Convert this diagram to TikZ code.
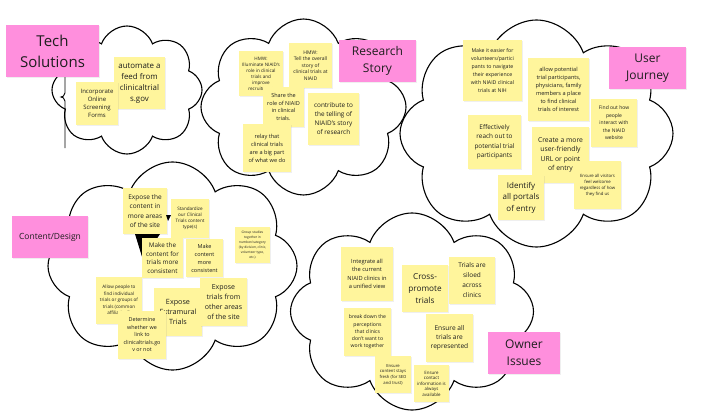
\documentclass[tikz,border=0pt]{standalone}
\usepackage{fontspec}
\setmainfont{Open Sans}
\usetikzlibrary{shapes.symbols,shadows}
\definecolor{noteyellow}{HTML}{FFF59C}
\definecolor{notepink}{HTML}{FF8FDD}
\definecolor{inktext}{HTML}{1E1E1E}
\newcommand{\fsz}[2]{\fontsize{#1}{#2}\selectfont}
\tikzset{
  cloudy/.style={draw=black, line width=1.1pt, cloud, cloud puffs=8, cloud puff arc=140,
    cloud ignores aspect, inner sep=0pt},
  note/.style={fill=noteyellow, inner sep=0.5pt, align=center, text=inktext,
    drop shadow={opacity=0.12, shadow xshift=0.7pt, shadow yshift=-0.9pt}},
  pinknote/.style={note, fill=notepink},
}
\begin{document}
\begin{tikzpicture}[x=1pt,y=-1pt]
\useasboundingbox (0,0) rectangle (708,412);
\fill[white] (0,0) rectangle (708,412);

% clouds
\node[cloudy, minimum width=150pt, minimum height=128pt, shape border rotate=10] (c1) at (127,90) {};
\node[cloudy, minimum width=205pt, minimum height=176pt, shape border rotate=5] (c2) at (303.5,107) {};
\node[cloudy, minimum width=273pt, minimum height=227pt, shape border rotate=15] (c3) at (536.5,133.5) {};
\node[cloudy, minimum width=249pt, minimum height=208pt, shape border rotate=8] (c4) at (172.5,266) {};
\node[cloudy, minimum width=243pt, minimum height=197pt, shape border rotate=12] (c5) at (412,311.5) {};

% bracket near tech cloud
\coordinate (bt) at (65,77);
\coordinate (bb) at (65,148);
\draw[line width=0.9pt] (bt) -- (65,93) .. controls (65,96) and (62,97) .. (61,97)
  .. controls (62,97) and (65,98) .. (65,101) -- (bb);

% Tech Solutions cloud
\node[note, minimum width=51pt, minimum height=52pt, font=\fsz{7.9}{11}] (automate) at (139.5,83) {automate a\\feed from\\clinicaltrial\\s.gov};
\node[note, minimum width=42pt, minimum height=43pt, font=\fsz{6}{8}] (incorporate) at (97,103.5) {Incorporate\\Online\\Screening\\Forms};
\node[pinknote, minimum width=93pt, minimum height=52pt, font=\fsz{15}{21}] (tech) at (52.5,51) {Tech\\Solutions};

% Research Story cloud
\node[note, minimum width=44pt, minimum height=45pt, font=\fsz{4.6}{6}] (hmwa) at (261,73.5) {HMW:\\Illuminate NIAID's\\role in clinical\\trials and\\improve\\recruitment};
\node[note, minimum width=43pt, minimum height=45pt, font=\fsz{5}{6.5}] (hmwb) at (310.5,65.5) {HMW:\\Tell the overall\\story of\\clinical trials at\\NIAID};
\node[note, minimum width=41pt, minimum height=40pt, font=\fsz{5.5}{7.5}] (share) at (283.5,107) {Share the\\role of NIAID\\in clinical\\trials.};
\node[note, minimum width=51pt, minimum height=52pt, font=\fsz{6.4}{9}] (contribute) at (333.5,119) {contribute to\\the telling of\\NIAID's story\\of research};
\node[note, minimum width=48pt, minimum height=48pt, font=\fsz{5.6}{8}] (relay) at (267,148) {relay that\\clinical trials\\are a big part\\of what we do};
\node[pinknote, minimum width=77pt, minimum height=42pt, font=\fsz{12}{17}] (research) at (377.5,61) {Research\\Story};

% User Journey cloud
\node[note, minimum width=59pt, minimum height=61pt, font=\fsz{5.2}{8}] (easier) at (492.5,70.5) {Make it easier for\\volunteers/partici\\pants to navigate\\their experience\\with NIAID clinical\\trials at NIH};
\node[note, minimum width=61pt, minimum height=63pt, font=\fsz{5.6}{8}] (allow) at (558.5,89.5) {allow potential\\trial participants,\\physicians, family\\members a place\\to find clinical\\trials of interest};
\node[note, minimum width=46pt, minimum height=48pt, font=\fsz{5}{7.5}] (findout) at (614,123) {Find out how\\people\\interact with\\the NIAID\\website};
\node[note, minimum width=53pt, minimum height=54pt, font=\fsz{6.4}{9.5}] (effectively) at (494.5,142) {Effectively\\reach out to\\potential trial\\participants};
\node[note, minimum width=57pt, minimum height=56pt, font=\fsz{6.8}{9.5}] (create) at (560.5,155) {Create a more\\user-friendly\\URL or point\\of entry};
\node[note, minimum width=46pt, minimum height=45pt, font=\fsz{8}{11.5}] (identify) at (521,197.5) {Identify\\all portals\\of entry};
\node[note, minimum width=47pt, minimum height=48pt, font=\fsz{4.3}{6}] (visitors) at (597.5,185) {Ensure all visitors\\feel welcome\\regardless of how\\they find us};
\node[pinknote, minimum width=77pt, minimum height=42pt, font=\fsz{12}{17}] (userj) at (647.5,68) {User\\Journey};

% Content/Design cloud
\node[note, minimum width=44pt, minimum height=46pt, font=\fsz{6.5}{9.5}] (exposecontent) at (145,211) {Expose the\\content in\\more areas\\of the site};
\node[note, minimum width=38pt, minimum height=39pt, font=\fsz{4.6}{6}] (standardize) at (190,218.5) {Standardize\\our Clinical\\Trials content\\type(s)};
\node[note, minimum width=35pt, minimum height=36pt, font=\fsz{3.3}{5}] (group) at (252.5,245) {Group studies\\together in\\number/category\\(by division, clinic,\\volunteer type,\\etc.)};
\fill[black] (135,234) -- (160,234) -- (143,260) -- cycle;
\fill[black] (166,215) -- (171,215) -- (168,221) -- cycle;
\node[note, minimum width=41pt, minimum height=40pt, font=\fsz{6.3}{8.5}] (trialsconsistent) at (162.5,258) {Make the\\content for\\trials more\\consistent};
\node[note, minimum width=37pt, minimum height=38pt, font=\fsz{5.5}{8}] (consistent) at (204.5,258) {Make\\content\\more\\consistent};
\node[note, minimum width=46pt, minimum height=47pt, font=\fsz{4.6}{6.5}] (allowpeople) at (119,300.5) {Allow people to\\find individual\\trials or groups of\\trials (common\\affiliation?)};
\node[note, minimum width=48pt, minimum height=48pt, font=\fsz{7.2}{10}] (extramural) at (178,312) {Expose\\Extramural\\Trials};
\node[note, minimum width=48pt, minimum height=48pt, font=\fsz{5.4}{7.5}] (determine) at (142,335) {Determine\\whether we\\link to\\clinicaltrials.go\\v or not};
\node[note, minimum width=47pt, minimum height=48pt, font=\fsz{7}{10}] (exposetrials) at (223.5,302) {Expose\\trials from\\other areas\\of the site};
\node[pinknote, minimum width=76pt, minimum height=42pt, font=\fsz{8.5}{12}] (content) at (50,237) {Content/Design};

% Owner Issues cloud
\node[note, minimum width=52pt, minimum height=54pt, font=\fsz{5.7}{8.5}] (integrate) at (367,274) {Integrate all\\the current\\NIAID clinics in\\a unified view};
\node[note, minimum width=46pt, minimum height=47pt, font=\fsz{8.2}{12}] (crosspromote) at (425,288.5) {Cross-\\promote\\trials};
\node[note, minimum width=46pt, minimum height=47pt, font=\fsz{6.5}{10}] (siloed) at (472,280.5) {Trials are\\siloed\\across\\clinics};
\node[note, minimum width=47pt, minimum height=48pt, font=\fsz{5.1}{7.3}] (breakdown) at (367.5,332) {break down the\\perceptions\\that clinics\\don't want to\\work together};
\node[note, minimum width=47pt, minimum height=48pt, font=\fsz{6.6}{9}] (ensuretrials) at (449.5,338) {Ensure all\\trials are\\represented};
\node[note, minimum width=36pt, minimum height=37pt, font=\fsz{4.2}{5.7}] (fresh) at (393,374.5) {Ensure\\content stays\\fresh (for SEO\\and trust)};
\node[note, minimum width=35pt, minimum height=37pt, font=\fsz{4.4}{5.5}] (contact) at (431.5,383.5) {Ensure\\contact\\information is\\always\\available};
\node[pinknote, minimum width=72pt, minimum height=42pt, font=\fsz{12}{17}] (owner) at (524,353) {Owner\\Issues};
\end{tikzpicture}
\end{document}
